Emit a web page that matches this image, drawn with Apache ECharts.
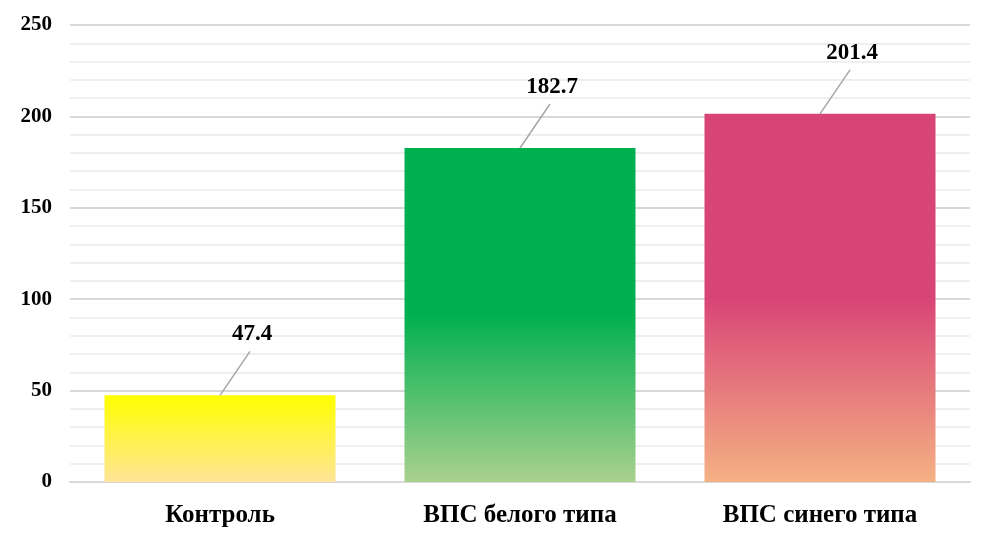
<!DOCTYPE html>
<html>
<head>
<meta charset="utf-8">
<script src="https://cdn.jsdelivr.net/npm/echarts@6/dist/echarts.min.js"></script>
<style>
  html, body { margin: 0; padding: 0; background: #fff; }
  #chart { width: 1001px; height: 549px; }
</style>
</head>
<body>
<div id="chart"></div>
<script>
const categories = ['Контроль', 'ВПС белого типа', 'ВПС синего типа']
const values = [47.4, 182.7, 201.4]
const yTicks = [0, 50, 100, 150, 200, 250]

// цвета заливки: верх / низ столбца
const topColors = ['#ffff00', '#00b050', '#d94477']
const bottomColors = ['#fee497', '#a9d18e', '#f4b183']
const solidPart = [0, 0.5, 0.5]

let myChart = echarts.init(document.getElementById('chart'))

let option = {
  animation: false,
  grid: { left: 70, right: 31, top: 25, bottom: 67 },
  xAxis: {
    type: 'category',
    data: categories,
    axisTick: { show: false },
    axisLine: { lineStyle: { color: '#d9d9d9', width: 2 } },
    axisLabel: {
      margin: 21,
      color: '#000',
      fontFamily: 'Liberation Serif',
      fontWeight: 'bold',
      fontSize: 25
    }
  },
  yAxis: {
    type: 'value',
    min: yTicks[0],
    max: yTicks[yTicks.length - 1],
    interval: 50,
    axisLine: { show: false },
    axisTick: { show: false },
    axisLabel: {
      margin: 18,
      color: '#000',
      fontFamily: 'Liberation Serif',
      fontWeight: 'bold',
      fontSize: 21
    },
    splitLine: { lineStyle: { color: '#d9d9d9', width: 2 } },
    minorTick: { show: false, splitNumber: 5 },
    minorSplitLine: { show: true, lineStyle: { color: '#efefef', width: 2 } }
  },
  series: [{
    type: 'bar',
    barCategoryGap: '23%',
    data: values.map(function (v, i) {
      return {
        value: v,
        itemStyle: {
          color: new echarts.graphic.LinearGradient(0, 0, 0, 1, [
            { offset: 0, color: topColors[i] },
            { offset: solidPart[i], color: topColors[i] },
            { offset: 1, color: bottomColors[i] }
          ])
        }
      }
    })
  }, {
    // подписи значений с выносной линией
    type: 'custom',
    data: values.map(function (v, i) { return [i, v] }),
    z: 5,
    renderItem: function (params, api) {
      let p = api.coord([api.value(0), api.value(1)])
      return {
        type: 'group',
        children: [{
          type: 'line',
          shape: { x1: p[0], y1: p[1], x2: p[0] + 30, y2: p[1] - 44 },
          style: { stroke: '#a6a6a6', lineWidth: 1.5 }
        }, {
          type: 'text',
          style: {
            text: String(api.value(1)),
            x: p[0] + 32,
            y: p[1] - 61,
            align: 'center',
            verticalAlign: 'middle',
            fill: '#000',
            font: 'bold 23px "Liberation Serif"'
          }
        }]
      }
    }
  }]
}
myChart.setOption(option)
window.addEventListener('resize', function () {
  myChart.resize()
})
</script>
</body>
</html>
